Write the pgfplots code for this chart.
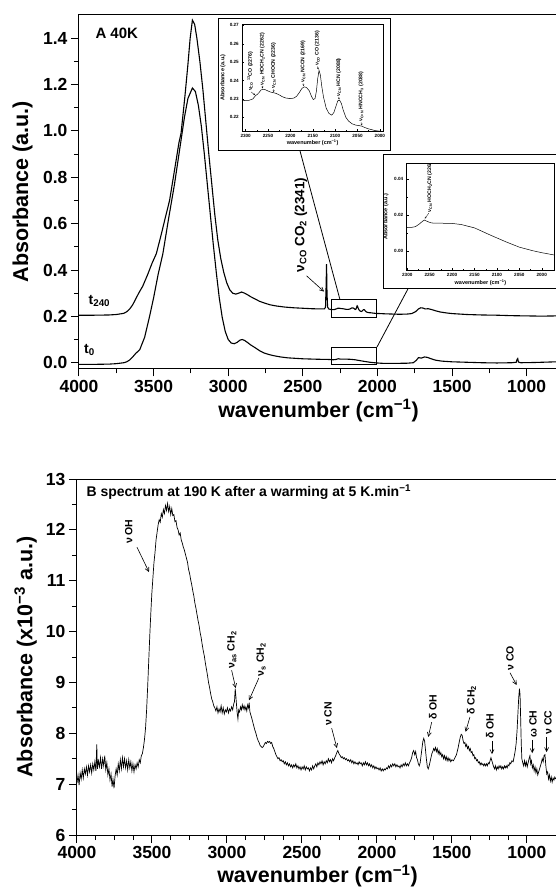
\documentclass[border=0pt]{standalone}
\usepackage{fontspec}
\setmainfont{Liberation Sans}
\usepackage{pgfplots}
\usepackage{pgfplotstable}
\pgfplotsset{compat=1.18}
\usetikzlibrary{arrows.meta}

% panel A, 40 K, t240 (offset) and t0
\pgfplotstableread{
w a
4000 0.205
3900 0.205
3800 0.206
3750 0.208
3700 0.213
3680 0.220
3660 0.232
3640 0.250
3620 0.275
3600 0.300
3573 0.330
3540 0.380
3510 0.430
3482 0.470
3450 0.550
3420 0.630
3393 0.700
3360 0.830
3330 0.950
3316 0.990
3290 1.150
3271 1.280
3255 1.400
3240 1.478
3225 1.460
3210 1.400
3190 1.300
3170 1.180
3150 1.040
3130 0.900
3110 0.770
3090 0.640
3070 0.530
3050 0.450
3030 0.390
3010 0.345
2990 0.315
2970 0.300
2950 0.296
2930 0.300
2910 0.305
2890 0.300
2870 0.293
2850 0.285
2820 0.275
2790 0.265
2760 0.258
2720 0.250
2680 0.245
2620 0.240
2560 0.237
2500 0.235
2440 0.233
2380 0.232
2355 0.232
2348 0.240
2344 0.330
2341 0.425
2338 0.300
2334 0.240
2326 0.232
2310 0.229
2300 0.2292
2292 0.2293
2284 0.2300
2278 0.2318
2274 0.2325
2270 0.2335
2266 0.2348
2262 0.2353
2256 0.2350
2250 0.2343
2244 0.2337
2238 0.2334
2232 0.2330
2225 0.2322
2218 0.2312
2210 0.2305
2200 0.2302
2192 0.2305
2186 0.2315
2180 0.2335
2174 0.2358
2169 0.2366
2164 0.2362
2158 0.2345
2153 0.2315
2149 0.2297
2145 0.2302
2142 0.2340
2139 0.2410
2136 0.2455
2133 0.2430
2130 0.2370
2126 0.2310
2120 0.2250
2114 0.2222
2108 0.2212
2103 0.2225
2098 0.2262
2094 0.2290
2090 0.2293
2086 0.2275
2082 0.2240
2076 0.2200
2070 0.2180
2062 0.2165
2054 0.2158
2046 0.2155
2040 0.2152
2034 0.2145
2026 0.2138
2018 0.2133
2010 0.2128
2000 0.2125
1980 0.212
1950 0.211
1900 0.210
1850 0.209
1800 0.210
1770 0.212
1745 0.220
1725 0.232
1710 0.237
1695 0.236
1680 0.232
1660 0.233
1640 0.230
1610 0.224
1580 0.219
1540 0.215
1500 0.212
1450 0.210
1400 0.208
1300 0.206
1200 0.205
1100 0.203
1000 0.202
900 0.201
800 0.202
}\tlate

\pgfplotstableread{
w a
4000 -0.007
3900 -0.007
3800 -0.006
3750 -0.004
3700 0.000
3680 0.004
3660 0.012
3640 0.025
3620 0.040
3593 0.056
3560 0.110
3527 0.200
3500 0.280
3470 0.380
3438 0.470
3400 0.620
3360 0.770
3330 0.900
3293 1.060
3270 1.140
3240 1.185
3220 1.170
3200 1.110
3180 1.020
3160 0.900
3140 0.770
3120 0.640
3100 0.510
3080 0.390
3060 0.280
3040 0.195
3020 0.135
3000 0.100
2980 0.085
2960 0.082
2940 0.088
2920 0.098
2905 0.100
2890 0.096
2870 0.087
2850 0.077
2820 0.065
2790 0.052
2760 0.042
2730 0.036
2700 0.031
2650 0.025
2600 0.021
2500 0.017
2400 0.015
2320 0.014
2301 0.0130
2290 0.0131
2282 0.0135
2274 0.0148
2266 0.0165
2262 0.0172
2256 0.0165
2248 0.0157
2240 0.0154
2220 0.0154
2200 0.0153
2180 0.0147
2150 0.0128
2115 0.0088
2080 0.0050
2050 0.0020
2020 0.0000
2000 -0.0011
1972 -0.0024
1900 -0.003
1800 -0.002
1760 0.000
1740 0.010
1725 0.022
1705 0.020
1685 0.025
1665 0.023
1640 0.017
1610 0.011
1570 0.007
1500 0.004
1400 0.002
1300 0.000
1200 -0.001
1100 0.000
1070 0.002
1064 0.015
1060 0.018
1055 0.003
1040 0.000
950 0.001
850 0.003
800 0.004
}\tzero

% panel B, 190 K
\pgfplotstableread{
w a
4000 7.02
3993 7.18
3986 6.98
3979 7.22
3972 7.10
3965 7.28
3958 7.12
3951 7.30
3944 7.20
3937 7.34
3930 7.18
3923 7.36
3916 7.24
3909 7.38
3902 7.22
3895 7.40
3888 7.28
3881 7.44
3874 7.26
3868 7.78
3864 7.30
3857 7.46
3850 7.34
3843 7.52
3836 7.30
3829 7.50
3822 7.36
3815 7.56
3808 7.28
3801 7.42
3794 7.18
3787 7.30
3780 7.08
3773 7.20
3766 6.95
3760 7.10
3753 6.92
3746 7.16
3739 7.30
3732 7.18
3725 7.40
3718 7.26
3711 7.48
3704 7.30
3697 7.52
3690 7.34
3683 7.50
3676 7.32
3669 7.46
3662 7.28
3655 7.48
3648 7.32
3641 7.44
3634 7.26
3627 7.40
3620 7.24
3613 7.38
3606 7.30
3599 7.42
3592 7.34
3585 7.48
3578 7.42
3571 7.56
3564 7.60
3557 7.72
3550 7.88
3543 8.10
3536 8.45
3529 8.90
3522 9.40
3515 9.90
3508 10.35
3501 10.75
3494 11.05
3487 11.35
3480 11.55
3473 11.80
3466 11.95
3459 12.10
3452 12.20
3445 12.15
3438 12.32
3431 12.25
3424 12.40
3417 12.32
3410 12.48
3403 12.38
3396 12.52
3389 12.36
3382 12.46
3375 12.30
3368 12.42
3361 12.28
3354 12.30
3347 12.16
3340 12.18
3333 12.05
3326 12.00
3319 11.90
3312 11.94
3305 11.80
3298 11.74
3291 11.66
3284 11.60
3277 11.52
3270 11.44
3263 11.36
3256 11.22
3249 11.14
3242 11.02
3235 10.92
3228 10.80
3221 10.70
3214 10.56
3207 10.46
3200 10.34
3193 10.22
3186 10.12
3179 9.98
3172 9.88
3165 9.74
3158 9.62
3151 9.52
3144 9.38
3137 9.26
3130 9.14
3123 9.00
3116 8.90
3109 8.78
3102 8.68
3095 8.62
3088 8.54
3081 8.50
3074 8.44
3067 8.52
3060 8.40
3053 8.48
3046 8.42
3039 8.54
3032 8.40
3025 8.50
3018 8.38
3011 8.46
3004 8.42
2997 8.50
2990 8.40
2983 8.48
2976 8.44
2969 8.52
2962 8.46
2955 8.58
2950 8.62
2945 8.88
2941 8.74
2937 8.58
2932 8.40
2927 8.28
2922 8.46
2916 8.42
2910 8.52
2904 8.46
2898 8.56
2892 8.48
2886 8.54
2880 8.46
2874 8.52
2868 8.44
2862 8.56
2856 8.50
2852 8.60
2847 8.42
2841 8.36
2835 8.30
2828 8.22
2821 8.14
2814 8.06
2807 8.00
2800 7.92
2793 7.86
2786 7.82
2779 7.76
2772 7.74
2765 7.72
2758 7.74
2751 7.78
2744 7.82
2737 7.80
2730 7.84
2723 7.82
2716 7.84
2709 7.80
2702 7.82
2695 7.74
2688 7.70
2681 7.64
2674 7.58
2667 7.54
2660 7.50
2653 7.52
2646 7.46
2639 7.48
2632 7.44
2625 7.46
2618 7.40
2611 7.44
2604 7.38
2597 7.42
2590 7.36
2583 7.40
2576 7.34
2569 7.38
2562 7.32
2555 7.38
2548 7.34
2541 7.40
2534 7.32
2527 7.36
2520 7.30
2513 7.34
2506 7.28
2499 7.34
2492 7.30
2485 7.36
2478 7.28
2471 7.34
2464 7.30
2457 7.32
2450 7.26
2443 7.32
2436 7.28
2429 7.36
2422 7.30
2415 7.36
2408 7.40
2401 7.34
2394 7.42
2387 7.38
2380 7.44
2373 7.40
2366 7.46
2359 7.38
2352 7.44
2345 7.40
2338 7.46
2331 7.42
2324 7.50
2317 7.44
2310 7.48
2303 7.42
2296 7.50
2289 7.46
2282 7.52
2275 7.56
2268 7.62
2261 7.66
2256 7.62
2250 7.58
2244 7.56
2238 7.52
2231 7.54
2224 7.50
2217 7.52
2210 7.48
2203 7.50
2196 7.46
2189 7.48
2182 7.44
2175 7.48
2168 7.42
2161 7.46
2154 7.40
2147 7.44
2140 7.40
2133 7.42
2126 7.38
2119 7.44
2112 7.40
2105 7.42
2098 7.36
2091 7.42
2084 7.38
2077 7.44
2070 7.38
2063 7.42
2056 7.36
2049 7.40
2042 7.34
2035 7.38
2028 7.32
2021 7.36
2014 7.30
2007 7.34
2000 7.30
1993 7.32
1986 7.28
1979 7.32
1972 7.26
1965 7.30
1958 7.26
1951 7.30
1944 7.28
1937 7.32
1930 7.30
1923 7.36
1916 7.32
1909 7.38
1902 7.34
1895 7.40
1888 7.36
1881 7.40
1874 7.34
1867 7.38
1860 7.34
1853 7.36
1846 7.32
1839 7.38
1832 7.34
1825 7.40
1818 7.36
1811 7.42
1804 7.36
1797 7.40
1790 7.36
1783 7.42
1776 7.46
1769 7.52
1762 7.62
1755 7.66
1748 7.58
1742 7.64
1736 7.52
1730 7.48
1724 7.40
1718 7.36
1712 7.42
1706 7.56
1700 7.70
1694 7.84
1688 7.90
1682 7.84
1676 7.66
1670 7.48
1664 7.34
1658 7.30
1652 7.36
1646 7.44
1640 7.52
1634 7.60
1628 7.64
1622 7.70
1616 7.66
1610 7.72
1604 7.64
1598 7.70
1592 7.60
1586 7.66
1580 7.58
1574 7.62
1568 7.54
1562 7.58
1556 7.50
1550 7.56
1544 7.48
1538 7.54
1532 7.46
1526 7.52
1520 7.46
1514 7.50
1508 7.44
1500 7.48
1490 7.46
1480 7.52
1470 7.58
1460 7.70
1452 7.82
1445 7.92
1438 7.98
1432 7.96
1426 7.86
1420 7.80
1414 7.82
1408 7.74
1402 7.78
1396 7.70
1390 7.74
1384 7.66
1378 7.70
1372 7.62
1366 7.64
1360 7.56
1354 7.58
1348 7.50
1342 7.52
1336 7.46
1330 7.48
1324 7.42
1318 7.44
1312 7.38
1306 7.42
1300 7.38
1294 7.40
1288 7.36
1282 7.40
1276 7.36
1270 7.40
1264 7.36
1258 7.42
1252 7.40
1246 7.46
1240 7.52
1234 7.46
1228 7.40
1222 7.34
1216 7.30
1210 7.36
1204 7.28
1198 7.34
1192 7.30
1186 7.36
1180 7.32
1174 7.36
1168 7.30
1162 7.34
1156 7.30
1150 7.36
1144 7.32
1138 7.36
1132 7.32
1126 7.38
1120 7.36
1114 7.42
1108 7.40
1100 7.46
1092 7.44
1084 7.56
1078 7.66
1072 7.80
1066 8.05
1060 8.40
1055 8.70
1050 8.88
1046 8.76
1042 8.30
1038 7.80
1034 7.50
1028 7.42
1022 7.36
1016 7.46
1010 7.36
1004 7.44
998 7.34
992 7.42
986 7.50
980 7.56
975 7.40
970 7.46
964 7.32
958 7.38
952 7.26
946 7.34
940 7.22
934 7.30
928 7.18
922 7.24
916 7.30
910 7.36
904 7.42
898 7.50
892 7.44
886 7.56
880 7.58
874 7.36
868 7.20
862 7.24
856 7.10
850 7.18
844 7.06
838 7.14
832 7.04
826 7.12
820 7.08
814 7.14
808 7.10
}\warm

\tikzset{
  ann/.style={-{Straight Barb[length=4pt,width=4pt]}, line width=0.6pt},
  annsmall/.style={-{Straight Barb[length=1.5pt,width=1.5pt]}, line width=0.3pt},
  btxt/.style={rotate=90, anchor=west, inner sep=1pt, font=\fontsize{10.5}{11}\selectfont\bfseries},
  itxt/.style={rotate=90, anchor=west, inner sep=0.4pt, font=\fontsize{5.2}{5.5}\selectfont\bfseries},
}
\pgfplotsset{
  panel/.style={
    scale only axis, x dir=reverse, clip=false,
    tick align=outside, tick pos=left,
    major tick length=8pt, minor tick length=5pt,
    axis line style={line width=1pt},
    tick style={line width=1pt, black},
    /pgf/number format/assume math mode=true,
    /pgf/number format/1000 sep={},
    tick label style={font=\fontsize{17.5}{18}\selectfont\bfseries},
    label style={font=\fontsize{21.5}{22}\selectfont\bfseries},
    xtick={1000,1500,...,4000},
    xlabel={wavenumber (cm\textsuperscript{−1})},
  },
  inset/.style={
    scale only axis, x dir=reverse,
    tick align=inside, tick pos=left,
    major tick length=2.2pt, minor tick length=1.2pt,
    axis line style={line width=0.5pt},
    tick style={line width=0.4pt, black},
    /pgf/number format/assume math mode=true,
    /pgf/number format/1000 sep={},
    scaled y ticks=false,
    tick label style={font=\fontsize{4.6}{5}\selectfont\bfseries},
    label style={font=\fontsize{5.5}{6}\selectfont\bfseries},
    xtick={2000,2050,...,2300}, minor x tick num=1,
    y tick label style={/pgf/number format/fixed, /pgf/number format/fixed zerofill, /pgf/number format/precision=2},
    xlabel={wavenumber (cm\textsuperscript{−1})},
    ylabel={Absorbance (a.u.)},
  },
}

\begin{document}
\begin{tikzpicture}
\useasboundingbox (0,0) rectangle (556pt,895pt);

% ---- panel A ----
\begin{axis}[panel,
  at={(79pt,526.7pt)}, anchor=south west,
  width=479pt, height=353.3pt,
  xmin=790, xmax=4000, ymin=-0.024, ymax=1.50,
  minor x tick num=1,
  ytick={0,0.2,...,1.4}, minor y tick num=1,
  y tick label style={/pgf/number format/fixed, /pgf/number format/fixed zerofill, /pgf/number format/precision=1},
  ylabel={Absorbance (a.u.)},
  ylabel style={at={(axis description cs:-0.118,0.5)}, anchor=center},
  xlabel style={at={(axis description cs:0.5,0)}, anchor=center, yshift=-42pt},
]
\addplot[black, line width=1.1pt] table[x=w, y=a] {\tlate};
\addplot[black, line width=1.1pt] table[x=w, y=a] {\tzero};
\node[anchor=west, font=\fontsize{15}{15}\selectfont\bfseries] at (axis cs:3913,1.422) {A 40K};
\node[font=\fontsize{14}{14}\selectfont\bfseries] at (axis cs:3863,0.267) {t\textsubscript{240}};
\node[font=\fontsize{14}{14}\selectfont\bfseries] at (axis cs:3930,0.056) {t\textsubscript{0}};
\node[rotate=90, anchor=base west, inner sep=1pt, font=\fontsize{13.5}{14}\selectfont\bfseries] at (axis cs:2490,0.385) {ν\textsubscript{CO} CO\textsubscript{2} (2341)};
\draw[ann] (axis cs:2475,0.375) -- (axis cs:2358,0.307);
\draw[line width=0.8pt] (axis cs:2306,0.272) rectangle (axis cs:2005,0.195);
\draw[line width=0.8pt] (axis cs:2306,0.0677) rectangle (axis cs:2005,-0.0086);
\draw[line width=0.8pt] (axis cs:2519,0.914) -- (axis cs:2251,0.272);
\draw[line width=0.8pt] (axis cs:1795,0.319) -- (axis cs:2003,0.0677);
\draw[line width=0.9pt, fill=white] (axis cs:3068,1.487) rectangle (axis cs:1916,0.914);
\draw[line width=0.9pt, fill=white] (axis cs:1962,0.897) rectangle (axis cs:776,0.319);
\end{axis}

% ---- inset 1 (t240) ----
\begin{axis}[inset,
  at={(242.3pt,764pt)}, anchor=south west,
  width=140.7pt, height=107pt,
  xmin=1993, xmax=2307.6, ymin=0.2126, ymax=0.2707,
  ytick={0.22,0.23,...,0.27}, minor y tick num=1,
  ylabel style={at={(axis description cs:-0.137,0.5)}, anchor=center},
  xlabel style={at={(axis description cs:0.5,-0.112)}, anchor=center},
]
\addplot[black, line width=0.5pt] table[x=w, y=a] {\tlate};
\node[itxt] at (axis cs:2290,0.2340) {ν\textsubscript{CO} \textsuperscript{13}CO (2276)};
\draw[annsmall] (axis cs:2288,0.2338) -- (axis cs:2279,0.2321);
\node[itxt] at (axis cs:2263,0.2372) {ν\textsubscript{CN} HOCH\textsubscript{2}CN (2262)};
\draw[annsmall] (axis cs:2263,0.2371) -- (axis cs:2262,0.2357);
\node[itxt] at (axis cs:2238,0.2354) {ν\textsubscript{CN} CHOCN (2236)};
\draw[annsmall] (axis cs:2238,0.2353) -- (axis cs:2237,0.2337);
\node[itxt] at (axis cs:2172,0.2386) {ν\textsubscript{CN} NCCN (2169)};
\draw[annsmall] (axis cs:2172,0.2385) -- (axis cs:2170,0.2370);
\node[itxt] at (axis cs:2140,0.2478) {ν\textsubscript{CO} CO (2136)};
\draw[annsmall] (axis cs:2140,0.2477) -- (axis cs:2137,0.2460);
\node[itxt] at (axis cs:2092,0.2312) {ν\textsubscript{CN} HCN (2088)};
\draw[annsmall] (axis cs:2092,0.2311) -- (axis cs:2091,0.2297);
\node[itxt] at (axis cs:2042,0.2174) {ν\textsubscript{C=N} HNCCH\textsubscript{3} (2038)};
\draw[annsmall] (axis cs:2042,0.2173) -- (axis cs:2040,0.2156);
\end{axis}

% ---- inset 2 (t0) ----
\begin{axis}[inset,
  at={(406.7pt,625pt)}, anchor=south west,
  width=147.6pt, height=106.7pt,
  xmin=1972, xmax=2301.3, ymin=-0.0108, ymax=0.049,
  ytick={0,0.02,0.04}, minor y tick num=1,
  ylabel style={at={(axis description cs:-0.14,0.5)}, anchor=center},
  xlabel style={at={(axis description cs:0.5,-0.122)}, anchor=center},
]
\addplot[black, line width=0.5pt] table[x=w, y=a] {\tzero};
\node[itxt] at (axis cs:2250,0.0212) {ν\textsubscript{CN} HOCH\textsubscript{2}CN (2262)};
\draw[annsmall] (axis cs:2252,0.0210) -- (axis cs:2261,0.0180);
\end{axis}

% ---- panel B ----
\begin{axis}[panel,
  at={(77pt,60pt)}, anchor=south west,
  width=481pt, height=356pt,
  xmin=793, xmax=4000, ymin=6, ymax=13,
  minor x tick num=3,
  ytick={6,7,...,13}, minor y tick num=1,
  ylabel={Absorbance (x10\textsuperscript{−3} a.u.)},
  ylabel style={at={(axis description cs:-0.107,0.5)}, anchor=center},
  xlabel style={at={(axis description cs:0.5,0)}, anchor=center, yshift=-41pt},
]
\addplot[black, line width=0.7pt] table[x=w, y=a] {\warm};
\node[anchor=west, font=\fontsize{14}{15}\selectfont\bfseries] at (axis cs:3960,12.74) {B spectrum at 190 K after a warming at 5 K.min\textsuperscript{−1}};
\node[btxt] at (axis cs:3655,11.7) {ν OH};
\draw[ann] (axis cs:3600,11.66) -- (axis cs:3520,11.17);
\node[btxt] at (axis cs:2967,9.25) {ν\textsubscript{as} CH\textsubscript{2}};
\draw[ann] (axis cs:2969,9.24) -- (axis cs:2942,8.89);
\node[btxt] at (axis cs:2772,9.10) {ν\textsubscript{s} CH\textsubscript{2}};
\draw[ann] (axis cs:2787,9.09) -- (axis cs:2853,8.65);
\node[btxt] at (axis cs:2327,8.12) {ν CN};
\draw[ann] (axis cs:2302,8.10) -- (axis cs:2267,7.71);
\node[btxt] at (axis cs:1627,8.24) {δ OH};
\draw[ann] (axis cs:1635,8.22) -- (axis cs:1658,7.93);
\node[btxt] at (axis cs:1369,8.34) {δ CH\textsubscript{2}};
\draw[ann] (axis cs:1380,8.32) -- (axis cs:1409,8.03);
\node[btxt] at (axis cs:1247,7.87) {δ OH};
\draw[ann] (axis cs:1233,7.85) -- (axis cs:1233,7.59);
\node[btxt] at (axis cs:1113,9.21) {ν CO};
\draw[ann] (axis cs:1113,9.19) -- (axis cs:1069,8.95);
\node[btxt] at (axis cs:960,7.89) {ω CH};
\draw[ann] (axis cs:965,7.87) -- (axis cs:965,7.61);
\node[btxt] at (axis cs:860,7.95) {ν CC};
\draw[ann] (axis cs:869,7.93) -- (axis cs:869,7.63);
\end{axis}
\end{tikzpicture}
\end{document}
